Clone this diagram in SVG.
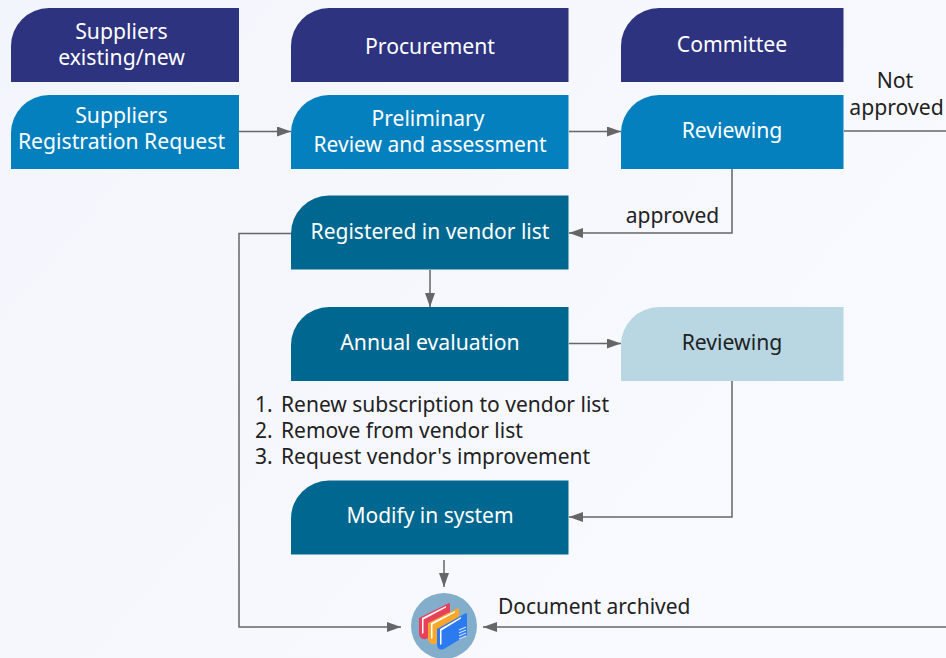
<svg xmlns="http://www.w3.org/2000/svg" width="946" height="658" viewBox="0 0 946 658">
<style>
text{font-family:"Noto Sans","Open Sans",sans-serif;font-size:21px;text-anchor:middle}
.w{fill:#fff}.d{fill:#222}.l{text-anchor:start}.big{font-size:21.200px}
.navy{fill:#2e337f}.blue{fill:#0580bf}.teal{fill:#006890}.pale{fill:#b8d7e3}
.c{fill:none;stroke:#666;stroke-width:1.5;marker-end:url(#a)}
.n{fill:none;stroke:#666;stroke-width:1.5}
</style>
<defs>
<linearGradient id="bg" x1="0" y1="0" x2="1" y2="0.6"><stop offset="0" stop-color="#f2f5fb"/><stop offset="1" stop-color="#f9faff"/></linearGradient>
<marker id="a" markerUnits="userSpaceOnUse" markerWidth="14" markerHeight="10" refX="14" refY="5" orient="auto"><path d="M0 0L14 5L0 10Z" fill="#666"/></marker>
<path id="s" d="M0 74V38A38 38 0 0 1 38 0H228V74Z"/>
<path id="s2" d="M0 74V38A38 38 0 0 1 38 0H277.500V74Z"/>
<path id="s3" d="M0 74V38A38 38 0 0 1 38 0H222.500V74Z"/>
</defs>
<rect width="946" height="658" fill="url(#bg)"/>
<g id="connectors">
<path class="c" d="M239 131.500H291"/>
<path class="c" d="M569 131.500H621"/>
<path class="n" d="M844 131H946"/>
<path class="c" d="M732 169V233H569"/>
<path class="c" d="M430 270V307"/>
<path class="c" d="M569 343.500H621"/>
<path class="c" d="M732 381V517H569"/>
<path class="c" d="M444 560V587"/>
<path class="c" d="M291 233.500H239V627H401"/>
<path class="c" d="M946 627H483"/>
</g>
<g id="n1"><use href="#s" x="11" y="8" class="navy"/><text class="w big" x="121.500" y="39">Suppliers</text><text class="w big" x="121.500" y="65">existing/new</text></g>
<g id="n2"><use href="#s2" x="291" y="8" class="navy"/><text class="w big" x="430" y="54">Procurement</text></g>
<g id="n3"><use href="#s3" x="621" y="8" class="navy"/><text class="w big" x="732" y="52">Committee</text></g>
<g id="n4"><use href="#s" x="11" y="95" class="blue"/><text class="w big" x="121.500" y="123">Suppliers</text><text class="w big" x="121.500" y="149">Registration Request</text></g>
<g id="n5"><use href="#s2" x="291" y="95" class="blue"/><text class="w" x="428" y="126">Preliminary</text><text class="w" x="430" y="152">Review and assessment</text></g>
<g id="n6"><use href="#s3" x="621" y="95" class="blue"/><text class="w big" x="732" y="138">Reviewing</text></g>
<g id="n7"><use href="#s2" x="291" y="195.500" class="teal"/><text class="w" x="430" y="239">Registered in vendor list</text></g>
<g id="n8"><use href="#s2" x="291" y="307" class="teal"/><text class="w big" x="430" y="350">Annual evaluation</text></g>
<g id="n9"><use href="#s3" x="621" y="307" class="pale"/><text class="d big" x="732" y="350">Reviewing</text></g>
<g id="n10"><use href="#s2" x="291" y="480.500" class="teal"/><text class="w" x="430" y="523">Modify in system</text></g>
<g id="n11">
<circle cx="444" cy="626" r="33" fill="#83aecb"/>
<path d="M419 618L449 603L450 604V625L426 639Q420 640 419 634Z" fill="#e8405a"/>
<path d="M422 618L446 606V607.500L423.500 619.500V633L422 634Z" fill="#fff"/>
<path d="M428 623L458 608L459 609V630L435 644Q429 645 428 639Z" fill="#f9a72c"/>
<path d="M431 623L455 611V612.500L432.500 624.500V638L431 639Z" fill="#fff"/>
<path d="M437 629L466 613L467 614V635L444 649Q438 651 437 645Z" fill="#2b7af0"/>
<path d="M440 629L461 617V618.500L441.500 630.500V644L440 645Z" fill="#fff"/>
<path d="M459 630l7-3M459 633l7-3M459 636l7-3M459 639l7-3" stroke="#cfe0ff" stroke-width="1.200" fill="none"/>
</g>
<g id="labels">
<text class="d big" x="895" y="88">Not</text>
<text class="d big" x="896.500" y="115">approved</text>
<text class="d" x="672.500" y="223">approved</text>
<text class="d l" x="255" y="412">1.</text><text class="d l" x="281" y="412">Renew subscription to vendor list</text>
<text class="d l" x="255" y="438">2.</text><text class="d l" x="281" y="438">Remove from vendor list</text>
<text class="d l" x="255" y="464">3.</text><text class="d l" x="281" y="464">Request vendor's improvement</text>
<text class="d l" x="498" y="614">Document archived</text>
</g>
</svg>
